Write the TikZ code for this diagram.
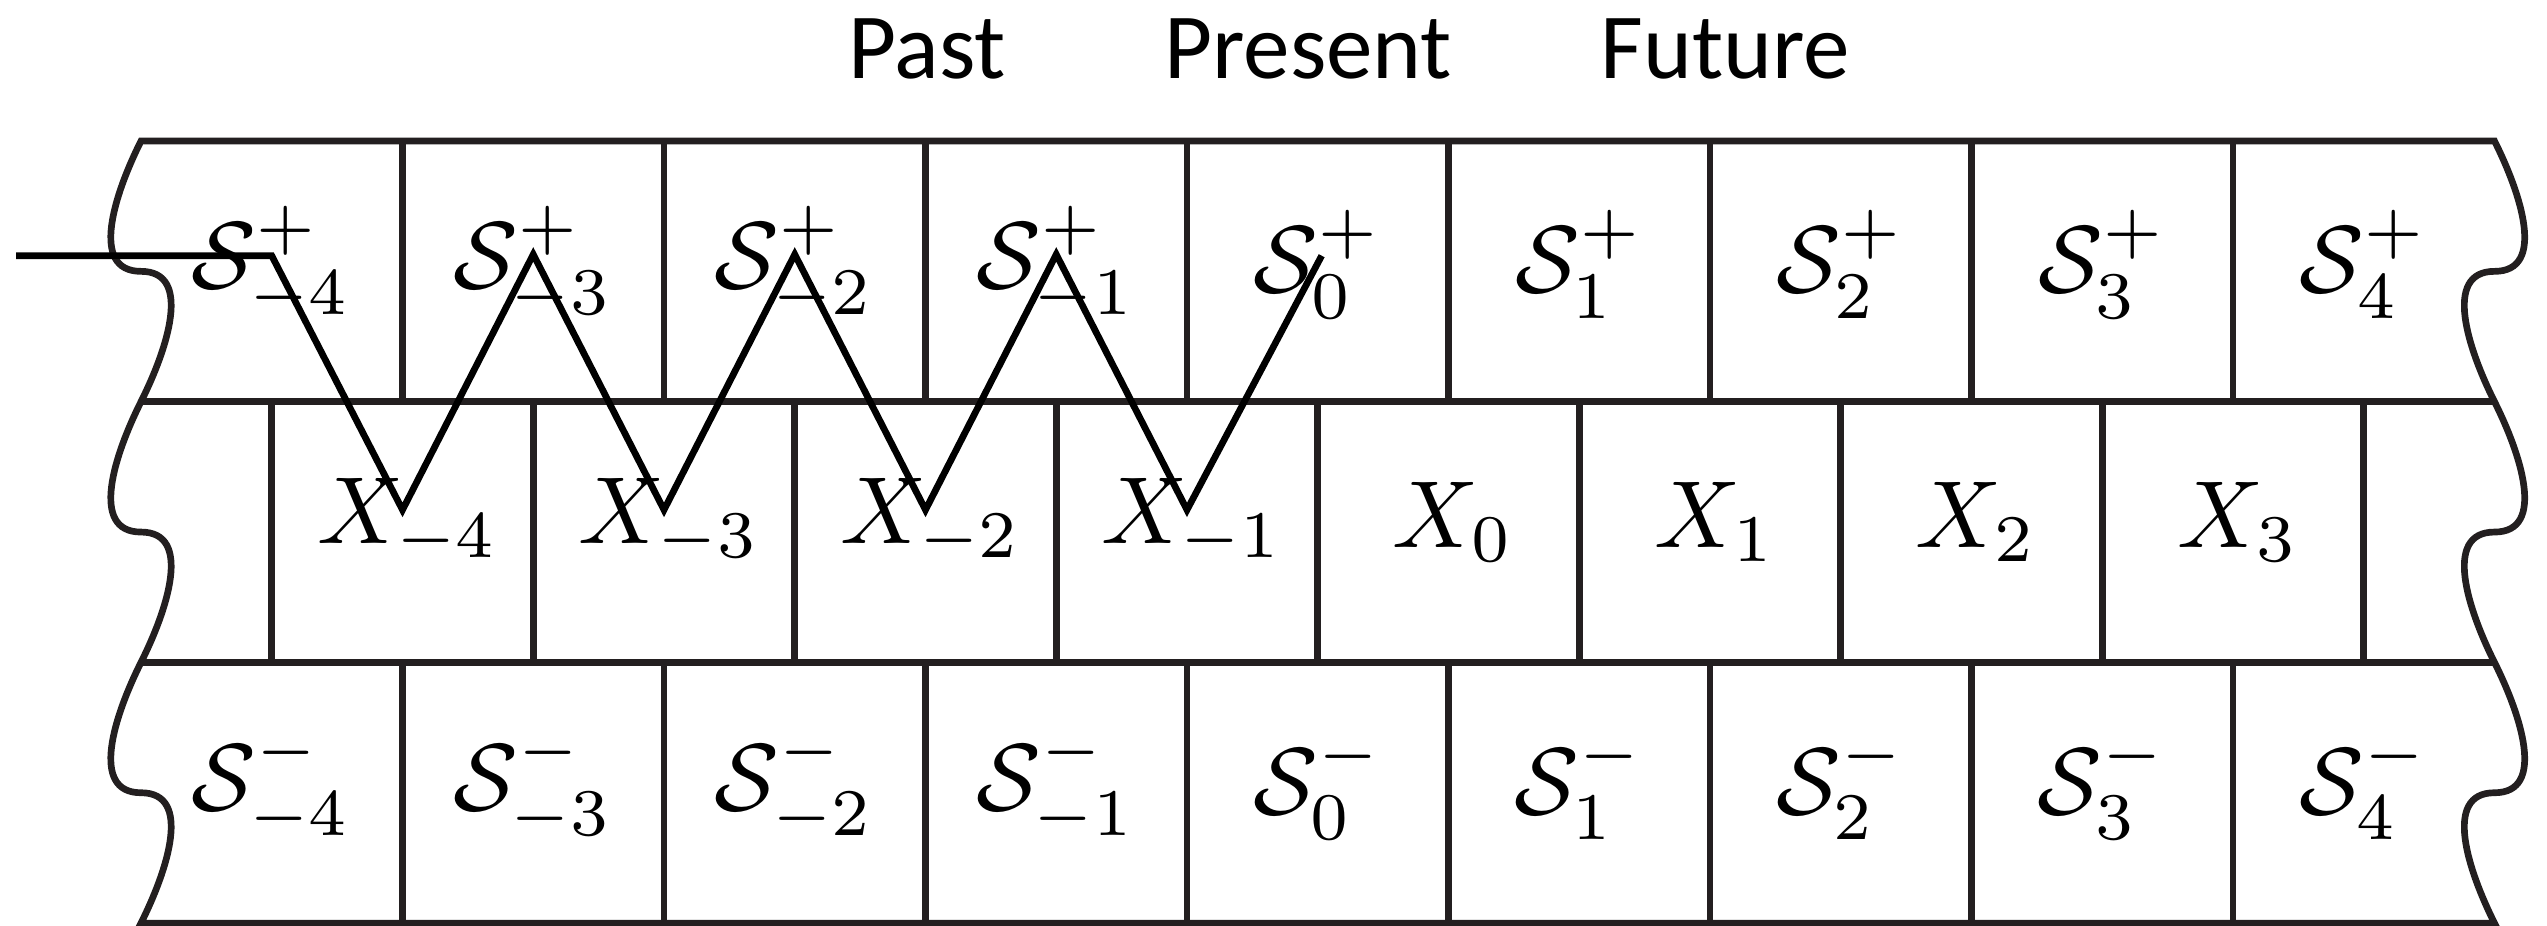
\RequirePackage{fix-cm}
\documentclass[tikz,border=0pt]{standalone}
\usepackage{fontspec}
\newfontfamily\labelsans{Carlito}
\usetikzlibrary{calc}
\definecolor{gridcol}{HTML}{231F20}
\begin{document}
\begin{tikzpicture}[x=2.615cm,y=2.607cm,
  grid/.style={draw=gridcol, line width=1.9pt, line join=miter},
  zig/.style={draw=black, line width=1.9pt, line join=miter},
  cellnode/.style={inner sep=0pt, font=\fontsize{10}{12}\selectfont, scale=2.71, transform shape},
  timelabel/.style={anchor=base, inner sep=0pt, font=\labelsans\fontsize{26.5}{31}\selectfont}]
\useasboundingbox (-0.5392,-3.011) rectangle (9.2008,0.5409);

% outline with wavy edges
\draw[grid] (0,0) -- (9,0)
  .. controls +(0.1,-0.2) and +(0.2,0) .. (9,-0.5)
  .. controls +(-0.2,0) and +(-0.1,0.2) .. (9,-1)
  .. controls +(0.1,-0.2) and +(0.2,0) .. (9,-1.5)
  .. controls +(-0.2,0) and +(-0.1,0.2) .. (9,-2)
  .. controls +(0.1,-0.2) and +(0.2,0) .. (9,-2.5)
  .. controls +(-0.2,0) and +(-0.1,0.2) .. (9,-3)
  -- (0,-3)
  .. controls +(0.1,0.2) and +(0.2,0) .. (0,-2.5)
  .. controls +(-0.2,0) and +(-0.1,-0.2) .. (0,-2)
  .. controls +(0.1,0.2) and +(0.2,0) .. (0,-1.5)
  .. controls +(-0.2,0) and +(-0.1,-0.2) .. (0,-1)
  .. controls +(0.1,0.2) and +(0.2,0) .. (0,-0.5)
  .. controls +(-0.2,0) and +(-0.1,-0.2) .. cycle;

% interior horizontal lines
\foreach \y in {-1,-2} \draw[grid] (0,\y) -- (9,\y);
% vertical lines
\foreach \x in {1,...,8} {
  \draw[grid] (\x,0) -- (\x,-1);
  \draw[grid] (\x,-2) -- (\x,-3);
}
\foreach \x in {0.5,1.5,...,8.5} \draw[grid] (\x,-1) -- (\x,-2);

% cell labels
\foreach \k in {-4,...,4} {
  \node[cellnode] (sp\k) at (\k+4.5,-0.473) {$\mathcal{S}^+_{\k}$};
  \node[cellnode] (sm\k) at (\k+4.5,-2.473) {$\mathcal{S}^-_{\k}$};
}
\foreach \k in {-4,...,3} {
  \node[cellnode] (x\k) at (\k+5.02,-1.46) {$X_{\k}$};
}

% time labels
\node[timelabel] (past) at (3.006,0.24) {Past};
\node[timelabel] (present) at (4.463,0.24) {Present};
\node[timelabel] (future) at (6.059,0.24) {Future};

% zigzag
\coordinate (zs) at (-0.478,-0.44);
\coordinate (t0) at (0.5,-0.44);
\coordinate (b1) at (1,-1.415);
\coordinate (t1) at (1.5,-0.435);
\coordinate (b2) at (2,-1.415);
\coordinate (t2) at (2.5,-0.435);
\coordinate (b3) at (3,-1.415);
\coordinate (t3) at (3.5,-0.435);
\coordinate (b4) at (4,-1.415);
\coordinate (ze) at (4.515,-0.44);
\draw[zig] (zs) -- (t0) -- (b1) -- (t1) -- (b2) -- (t2) -- (b3) -- (t3) -- (b4) -- (ze);
\end{tikzpicture}
\end{document}
